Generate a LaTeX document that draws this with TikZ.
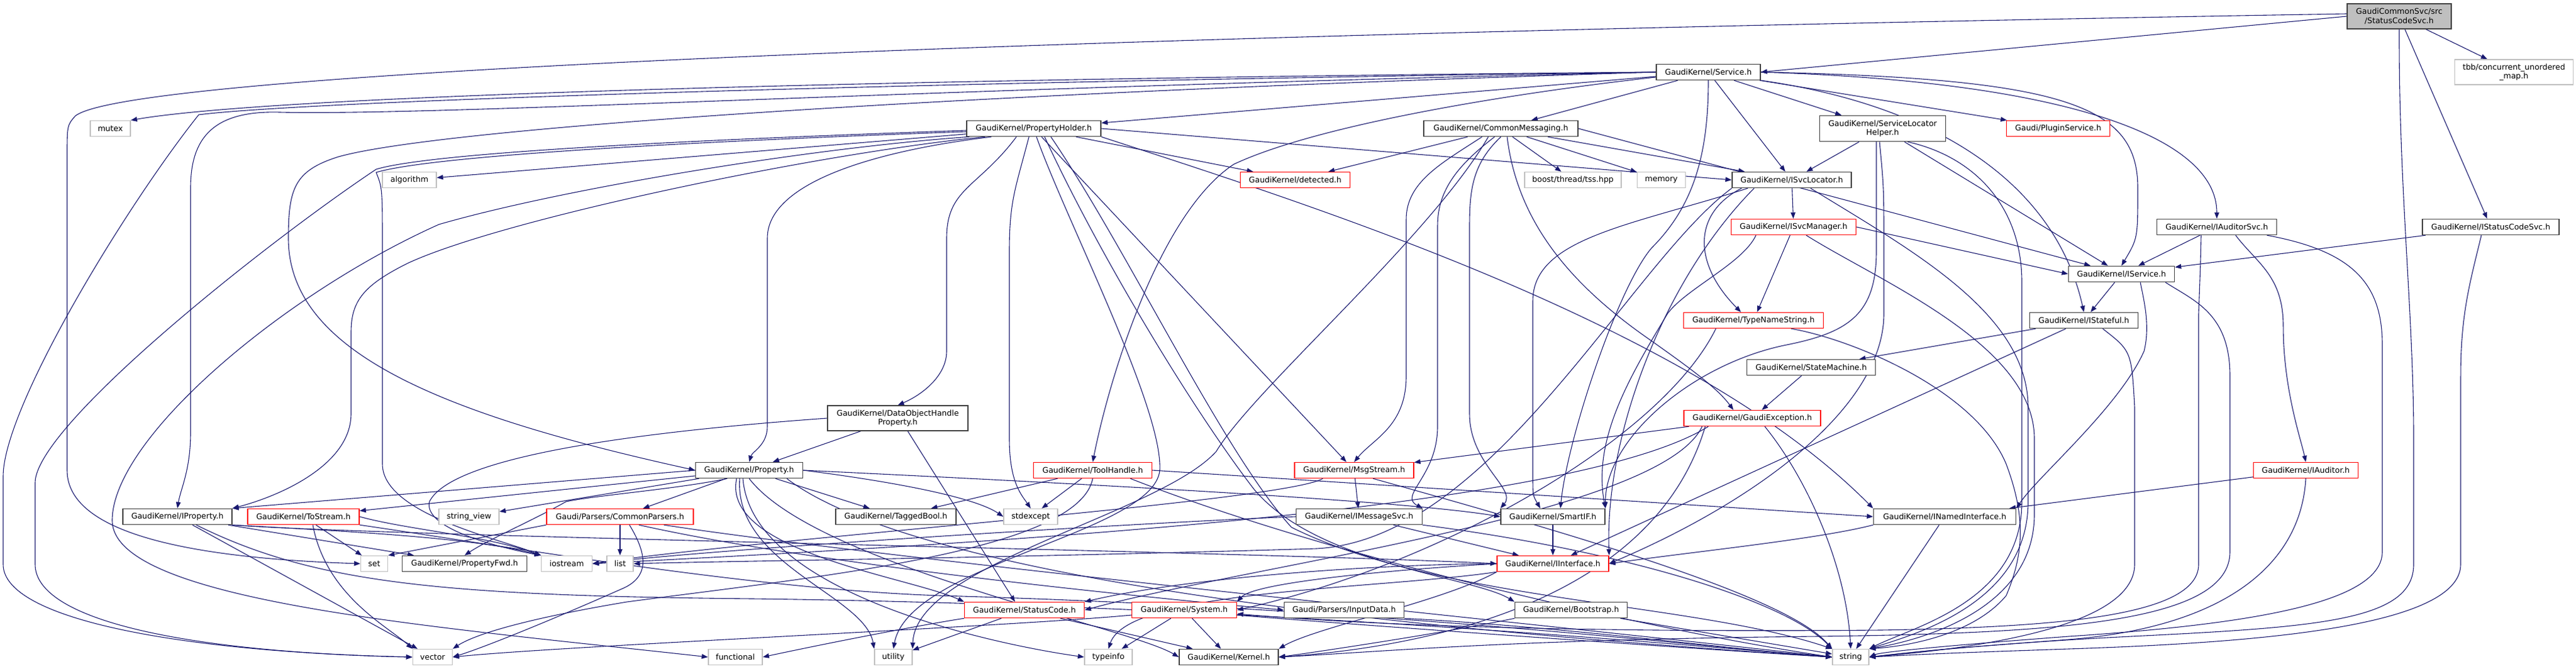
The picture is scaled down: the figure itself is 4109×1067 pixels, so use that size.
\documentclass[tikz,border=0pt]{standalone}
\usepackage{fontspec}
\setmainfont{DejaVu Sans}
\usetikzlibrary{arrows.meta}
\pgfdeclarelayer{bg}
\pgfdeclarelayer{paper}
\pgfsetlayers{paper,bg,main}
\definecolor{mblue}{HTML}{191970}
\definecolor{gbord}{HTML}{BFBFBF}
\definecolor{dbord}{HTML}{404040}
\definecolor{rbord}{HTML}{FF0000}
\begin{document}
\begin{tikzpicture}[x=1pt,y=-1pt,
  base/.style={draw, fill=white, inner sep=0pt, minimum height=25pt, align=center,
     font=\fontsize{12.5}{14.5}\selectfont},
  nb/.style={base, draw=dbord, line width=1.5pt},
  nr/.style={base, draw=rbord, line width=1.4pt},
  ng/.style={base, draw=gbord, line width=1.4pt},
  nroot/.style={base, draw=dbord, fill=gbord, line width=1.5pt},
  ed/.style={draw=mblue, line width=1.1pt, -{Triangle[length=10pt,width=7.5pt]}}]
\begin{pgfonlayer}{paper}
\fill[white] (0,0) rectangle (4109,1067);
\end{pgfonlayer}
\useasboundingbox (0,0) rectangle (4109,1067);
% nodes
\node[nroot, minimum width=166pt, minimum height=40pt] (root) at (3827,26) {GaudiCommonSvc/src\\/StatusCodeSvc.h};
\node[nb, minimum width=166pt] (svc) at (2725,115) {GaudiKernel/Service.h};
\node[ng, minimum width=189pt, minimum height=40pt] (tbb) at (4010,115) {tbb/concurrent\_unordered\\\_map.h};
\node[ng, minimum width=64pt] (mutex) at (176,205) {mutex};
\node[nb, minimum width=214pt] (ph) at (1649,205) {GaudiKernel/PropertyHolder.h};
\node[nb, minimum width=246pt] (cm) at (2394,205) {GaudiKernel/CommonMessaging.h};
\node[nb, minimum width=201pt, minimum height=41pt] (slh) at (3003,205) {GaudiKernel/ServiceLocator\\Helper.h};
\node[nr, minimum width=165pt] (plugin) at (3283,205) {Gaudi/PluginService.h};
\node[ng, minimum width=86pt] (algorithm) at (653,287) {algorithm};
\node[nr, minimum width=175pt] (detected) at (2066,287) {GaudiKernel/detected.h};
\node[ng, minimum width=154pt] (boost) at (2509,287) {boost/thread/tss.hpp};
\node[ng, minimum width=77pt] (memory) at (2650,287) {memory};
\node[nb, minimum width=190pt] (isl) at (2858,287) {GaudiKernel/ISvcLocator.h};
\node[nr, minimum width=199pt] (ism) at (2861,362) {GaudiKernel/ISvcManager.h};
\node[nb, minimum width=191pt] (ias) at (3536,362) {GaudiKernel/IAuditorSvc.h};
\node[nb, minimum width=218pt] (iscs) at (3973,362) {GaudiKernel/IStatusCodeSvc.h};
\node[nb, minimum width=169pt] (isv) at (3384,437) {GaudiKernel/IService.h};
\node[nr, minimum width=223pt] (tns) at (2797,511) {GaudiKernel/TypeNameString.h};
\node[nb, minimum width=173pt] (ist) at (3324,511) {GaudiKernel/IStateful.h};
\node[nb, minimum width=205pt] (sm) at (2889,586) {GaudiKernel/StateMachine.h};
\node[nb, minimum width=224pt, minimum height=40pt] (dohp) at (1432,667) {GaudiKernel/DataObjectHandle\\Property.h};
\node[nr, minimum width=218pt] (ge) at (2795,667) {GaudiKernel/GaudiException.h};
\node[nb, minimum width=171pt] (prop) at (1195,750) {GaudiKernel/Property.h};
\node[nr, minimum width=189pt] (th) at (1743,750) {GaudiKernel/ToolHandle.h};
\node[nr, minimum width=190pt] (ms) at (2160,750) {GaudiKernel/MsgStream.h};
\node[nr, minimum width=167pt] (iaud) at (3678,750) {GaudiKernel/IAuditor.h};
\node[nb, minimum width=174pt] (iprop) at (283,824) {GaudiKernel/IProperty.h};
\node[nr, minimum width=178pt] (tostr) at (484,824) {GaudiKernel/ToStream.h};
\node[ng, minimum width=96pt] (sv) at (748,824) {string\_view};
\node[nr, minimum width=234pt] (cp) at (989,824) {Gaudi/Parsers/CommonParsers.h};
\node[nb, minimum width=192pt] (tb) at (1429,824) {GaudiKernel/TaggedBool.h};
\node[ng, minimum width=86pt] (stdex) at (1644,824) {stdexcept};
\node[nb, minimum width=201pt] (ims) at (2168,824) {GaudiKernel/IMessageSvc.h};
\node[nb, minimum width=166pt] (smart) at (2477,824) {GaudiKernel/SmartIF.h};
\node[nb, minimum width=227pt] (ini) at (3102,824) {GaudiKernel/INamedInterface.h};
\node[ng, minimum width=43pt] (set) at (597,899) {set};
\node[nb, minimum width=199pt] (pfwd) at (741,899) {GaudiKernel/PropertyFwd.h};
\node[ng, minimum width=81pt] (iostream) at (904,899) {iostream};
\node[ng, minimum width=42pt] (list) at (989,899) {list};
\node[nr, minimum width=178pt] (iif) at (2477,899) {GaudiKernel/IInterface.h};
\node[nr, minimum width=191pt] (sc) at (1634,973) {GaudiKernel/StatusCode.h};
\node[nr, minimum width=167pt] (sys) at (1889,973) {GaudiKernel/System.h};
\node[nb, minimum width=191pt] (input) at (2144,973) {Gaudi/Parsers/InputData.h};
\node[nb, minimum width=179pt] (boot) at (2506,973) {GaudiKernel/Bootstrap.h};
\node[ng, minimum width=63pt] (vector) at (690,1048) {vector};
\node[ng, minimum width=86pt] (functional) at (1173,1048) {functional};
\node[ng, minimum width=60pt] (utility) at (1425,1048) {utility};
\node[ng, minimum width=76pt] (typeinfo) at (1768,1048) {typeinfo};
\node[nb, minimum width=158pt] (kernel) at (1960,1048) {GaudiKernel/Kernel.h};
\node[ng, minimum width=58pt] (string) at (2952,1048) {string};
% edges
\begin{pgfonlayer}{bg}
% root
\draw[ed] (root.west) -- (svc.east);
\draw[ed] (root) -- (tbb);
\draw[ed] (root) -- (iscs);
\draw[ed] (root.south) .. controls (3826,300) and (3850,500) .. (3850,700) -- (3850,900) .. controls (3850,990) and (3700,1000) .. (3400,1015) .. controls (3200,1025) and (3050,1040) .. (string.east);
\draw[ed] ([yshift=4pt]root.west) .. controls (1500,60) and (200,120) .. (120,185) .. controls (107,200) .. (107,250) -- (107,750) .. controls (107,850) and (300,890) .. (set.west);
% Service.h
\draw[ed] (svc) -- (plugin);
\draw[ed] (svc) -- (cm);
\draw[ed] (svc) -- (slh);
\draw[ed] (svc) -- (isl);
\draw[ed] (svc) -- (ph);
\draw[ed] (svc.east) .. controls (3300,130) and (3536,220) .. (ias.north);
\draw[ed] (svc.east) .. controls (3300,125) and (3410,170) .. (3410,300) .. controls (3410,380) .. (isv.north);
\draw[ed] (svc.south east) .. controls (3100,170) and (3280,300) .. (ist.north);
\draw[ed] (svc.south) .. controls (2725,250) and (2700,330) .. (2634,396) .. controls (2580,460) and (2500,700) .. ([xshift=12pt]smart.north);
\draw[ed] ([yshift=-8pt]svc.west) .. controls (2400,150) and (2100,200) .. (1968,262) .. controls (1850,340) and (1770,600) .. (th.north);
\draw[ed] (svc.west) .. controls (1500,125) and (450,150) .. (mutex.north east);
\draw[ed] (svc.west) .. controls (1500,130) and (500,160) .. (317,183) .. controls (200,330) and (5,650) .. (5,760) -- (5,900) .. controls (5,990) and (300,1040) .. (vector.west);
\draw[ed] (svc.west) .. controls (1500,140) and (700,185) .. (446,179) .. controls (340,176) and (304,220) .. (304,300) -- (304,690) .. controls (304,750) and (288,780) .. (iprop.north);
\draw[ed] (svc.west) .. controls (1500,150) and (700,205) .. (540,250) .. controls (470,272) and (460,300) .. (460,380) .. controls (460,560) and (700,660) .. (prop.west);
% PropertyHolder.h
\draw[ed] (ph) -- (algorithm);
\draw[ed] (ph) -- (detected);
\draw[ed] (ph.east) -- (isl.west);
\draw[ed] ([xshift=80pt]ph.south west) .. controls (1560,300) and (1510,300) .. (1510,380) -- (1510,560) .. controls (1510,600) and (1470,630) .. (dohp.north);
\draw[ed] ([xshift=100pt]ph.south west) .. controls (1620,300) and (1610,320) .. (1610,400) -- (1610,700) .. controls (1610,770) and (1630,790) .. (stdex.north);
\draw[ed] (ph) -- (ms);
\draw[ed] (ph.south east) .. controls (2100,330) and (2700,520) .. (ini.north west);
\draw[ed] ([xshift=40pt]ph.south west) .. controls (1400,240) and (1224,290) .. (1224,380) -- (1224,680) .. controls (1224,710) and (1200,720) .. (prop.north);
\draw[ed] ([yshift=-3pt]ph.west) .. controls (1200,220) and (700,240) .. (600,270) .. controls (420,390) and (56,680) .. (56,770) -- (56,900) .. controls (56,990) and (300,1040) .. (vector.west);
\draw[ed] ([yshift=-5pt]ph.west) .. controls (1200,222) and (700,245) .. (600,275) .. controls (610,300) .. (610,400) -- (610,740) .. controls (610,820) and (800,860) .. (iostream.north west);
\draw[ed] ([xshift=5pt]ph.south west) .. controls (1300,235) and (900,300) .. (700,358) .. controls (450,470) and (179,700) .. (179,830) .. controls (179,960) and (700,1000) .. (functional.west);
\draw[ed] ([xshift=30pt]ph.south west) .. controls (1300,245) and (800,350) .. (650,420) .. controls (580,455) and (560,480) .. (560,530) -- (560,660) .. controls (560,740) and (450,790) .. (iprop.north east);
\draw[ed] ([xshift=112pt]ph.south west) .. controls (1700,350) and (1855,650) .. (1850,750) .. controls (1840,850) and (1450,900) .. (utility.north);
\draw[ed] ([xshift=125pt]ph.south west) .. controls (1750,400) and (1900,650) .. (2000,780) .. controls (2100,900) and (2350,920) .. (boot.north west);
\draw[ed] ([xshift=135pt]ph.south west) .. controls (1800,400) and (1950,720) .. (2060,841) .. controls (2300,960) and (2700,960) .. (string.north west);
% CommonMessaging.h
\draw[ed] (cm) -- (detected);
\draw[ed] (cm) -- (boost);
\draw[ed] (cm) -- (memory);
\draw[ed] (cm) -- (isl);
\draw[ed] (cm.east) -- (isv);
\draw[ed] ([xshift=-30pt]cm.south) .. controls (2300,260) and (2243,290) .. (2243,350) -- (2243,600) .. controls (2243,680) and (2190,700) .. (ms.north);
\draw[ed] ([xshift=-10pt]cm.south) .. controls (2330,260) and (2293,300) .. (2293,360) -- (2293,680) .. controls (2293,760) and (2230,790) .. (ims.north east);
\draw[ed] (cm.south) .. controls (2350,260) and (2344,300) .. (2344,360) -- (2344,660) .. controls (2344,740) and (2420,780) .. (smart.north west);
\draw[ed] ([xshift=10pt]cm.south) .. controls (2420,350) and (2500,450) .. (2629,540) .. controls (2700,590) and (2740,620) .. ([xshift=-30pt]ge.north);
\draw[ed] ([xshift=-20pt]cm.south) .. controls (2280,380) and (2000,620) .. (1940,720) .. controls (1850,820) and (1460,900) .. (utility.north east);
% ServiceLocatorHelper.h
\draw[ed] (slh) -- (isl);
\draw[ed] (slh) -- (isv);
\draw[ed] ([xshift=-10pt]slh.south) .. controls (2993,300) .. (2993,400) .. controls (2993,500) and (2950,530) .. (2850,550) .. controls (2700,580) and (2560,700) .. (smart.north east);
\draw[ed] ([xshift=-5pt]slh.south) .. controls (3005,300) .. (3005,400) -- (3005,500) .. controls (3005,650) and (2800,800) .. (iif.east);
\draw[ed] ([xshift=40pt]slh.south) .. controls (3150,250) and (3225,330) .. (3225,450) -- (3225,800) .. controls (3225,960) and (3050,1000) .. (string.north east);
% ISvcLocator.h
\draw[ed] (isl) -- (ism);
\draw[ed] ([xshift=-80pt]isl.south) .. controls (2700,340) and (2700,420) .. ([xshift=-20pt]tns.north);
\draw[ed] ([xshift=-70pt]isl.south) .. controls (2600,360) and (2445,380) .. (2445,480) -- (2445,760) .. controls (2445,790) .. ([xshift=-20pt]smart.north);
\draw[ed] ([xshift=-60pt]isl.south) .. controls (2650,450) and (2560,700) .. (iif.north east);
\draw[ed] (isl.south west) .. controls (2600,420) and (2380,860) .. (2100,875) .. controls (1600,890) and (1150,895) .. (list.east);
\draw[ed] ([xshift=30pt]isl.south) .. controls (3050,400) and (3235,500) .. (3235,650) -- (3235,800) .. controls (3235,960) and (3060,1010) .. (string.north east);
% ISvcManager.h
\draw[ed] (ism.east) -- (isv.west);
\draw[ed] (ism) -- (tns);
\draw[ed] ([xshift=20pt]ism.south) .. controls (3000,450) and (3245,550) .. (3245,700) -- (3245,820) .. controls (3245,970) and (3070,1020) .. (string.north east);
\draw[ed] ([xshift=-60pt]ism.south) .. controls (2780,420) and (2690,460) .. (2660,500) .. controls (2600,600) and (2540,700) .. (smart.north east);
% IAuditorSvc.h
\draw[ed] (ias) -- (isv);
\draw[ed] ([xshift=30pt]ias.south) .. controls (3600,420) and (3642,440) .. (3642,520) .. controls (3642,620) and (3670,700) .. (iaud.north);
\draw[ed] ([xshift=-25pt]ias.south) .. controls (3510,420) .. (3507,500) -- (3507,900) .. controls (3507,980) and (3300,1000) .. (3000,1005) .. controls (2400,1010) and (2100,990) .. ([yshift=-6pt]sys.east);
\draw[ed] ([xshift=80pt]ias.south) .. controls (3750,400) and (3800,450) .. (3800,550) -- (3800,880) .. controls (3800,960) and (3600,995) .. (3300,1015) .. controls (3100,1030) and (3000,1040) .. (string.east);
% IStatusCodeSvc.h
\draw[ed] (iscs) -- (isv);
\draw[ed] ([xshift=-15pt]iscs.south) .. controls (3940,450) and (3925,500) .. (3925,600) -- (3925,900) .. controls (3925,1000) and (3600,1025) .. (3300,1035) .. controls (3100,1042) .. (string.east);
% IService.h
\draw[ed] (isv) -- (ist);
\draw[ed] ([xshift=30pt]isv.south) .. controls (3420,480) and (3430,520) .. (3420,560) .. controls (3380,650) and (3250,760) .. (ini.north east);
\draw[ed] ([xshift=70pt]isv.south) .. controls (3500,480) and (3557,500) .. (3557,600) -- (3557,880) .. controls (3557,990) and (3300,1010) .. (2900,1015) .. controls (2400,1020) and (2200,1040) .. (kernel.east);
% TypeNameString.h
\draw[ed] ([xshift=-60pt]tns.south) .. controls (2650,700) and (2300,900) .. (sys.east);
\draw[ed] ([xshift=60pt]tns.south) .. controls (2950,540) and (3150,620) .. (3200,740) .. controls (3230,820) and (3230,880) .. (3200,950) .. controls (3150,1010) and (3050,1030) .. (string.north east);
% IStateful.h
\draw[ed] (ist) -- (sm);
\draw[ed] (ist) -- (iif);
\draw[ed] ([xshift=30pt]ist.south) .. controls (3400,560) .. (3405,650) -- (3405,900) .. controls (3405,990) and (3200,1030) .. (string.east);
% StateMachine / GaudiException
\draw[ed] (sm) -- (ge);
\draw[ed] (ge) -- (ms);
\draw[ed] ([xshift=-80pt]ge.south) .. controls (2650,820) and (2000,900) .. (sc.east);
\draw[ed] ([xshift=-75pt]ge.south) .. controls (2640,950) and (2300,1030) .. (kernel.east);
\draw[ed] ([xshift=-70pt]ge.south) .. controls (2500,820) and (1500,870) .. (iostream.east);
\draw[ed] ([xshift=20pt]ge.south) .. controls (2880,760) and (2945,900) .. (string.north);
% MsgStream.h
\draw[ed] (ms) -- (ims);
\draw[ed] ([xshift=30pt]ms.south) .. controls (2500,850) and (2850,950) .. (string.north west);
\draw[ed] ([xshift=-50pt]ms.south) .. controls (2050,800) and (1200,860) .. (iostream.east);
% ToolHandle.h
\draw[ed] (th) -- (tb);
\draw[ed] (th) -- (stdex);
\draw[ed] (th.east) -- (ini.west);
\draw[ed] ([xshift=60pt]th.south) .. controls (2100,880) and (2600,1000) .. (string.west);
\draw[ed] (th.south) .. controls (1720,880) and (1300,920) .. (1000,960) .. controls (850,985) and (760,1010) .. (vector.north east);
% Property.h
\draw[ed] (prop.west) -- (iprop.north east);
\draw[ed] (prop) -- (tostr);
\draw[ed] (prop) -- (sv);
\draw[ed] ([xshift=-35pt]prop.south) .. controls (1080,780) and (950,790) .. (903,800) .. controls (850,830) and (780,860) .. (pfwd.north);
\draw[ed] (prop) -- (cp);
\draw[ed] (prop) -- (tb);
\draw[ed] (prop.east) .. controls (1400,765) and (1550,790) .. (stdex.west);
\draw[ed] (prop.east) .. controls (1800,775) and (2250,800) .. (smart.west);
\draw[ed] ([xshift=-20pt]prop.south) .. controls (1150,880) and (1450,920) .. (sc.north west);
\draw[ed] ([xshift=-15pt]prop.south) .. controls (1170,900) and (1380,950) .. (utility.north west);
\draw[ed] ([xshift=-10pt]prop.south) .. controls (1200,950) and (1600,1030) .. (typeinfo.west);
\draw[ed] (prop.south) .. controls (1300,900) and (1800,1000) .. (kernel.west);
\draw[ed] ([xshift=60pt]prop.south) .. controls (1500,950) and (2500,1020) .. (string.west);
% DataObjectHandleProperty.h
\draw[ed] (dohp) -- (prop);
\draw[ed] ([xshift=16pt]dohp.south) -- ([xshift=-15pt]sc.north);
\draw[ed] (dohp.west) .. controls (1000,690) and (720,730) .. (685,800) .. controls (675,840) and (780,870) .. (iostream.north west);
% IProperty.h
\draw[ed] (iprop) -- (pfwd);
\draw[ed] (iprop) -- (vector);
\draw[ed] (iprop.south east) .. controls (500,845) and (750,855) .. (iostream.north west);
\draw[ed] (iprop.south east) .. controls (600,855) and (2000,880) .. (iif.west);
\draw[ed] ([xshift=30pt]iprop.south) .. controls (500,930) and (700,950) .. (1200,955) .. controls (2000,965) and (2700,1030) .. (string.west);
% ToStream.h
\draw[ed] (tostr) -- (set);
\draw[ed] ([xshift=15pt]tostr.south) .. controls (520,950) and (620,1000) .. (vector.north west);
\draw[ed] (tostr.east) .. controls (650,845) and (780,855) .. (iostream.north west);
\draw[ed] (tostr.south east) .. controls (800,870) and (1200,940) .. (1500,950) .. controls (2200,970) and (2700,1030) .. (string.west);
% CommonParsers.h
\draw[ed] (cp) -- (list);
\draw[ed] (cp.south west) -- (set.north east);
\draw[ed] ([xshift=15pt]cp.south) .. controls (1030,880) and (1040,920) .. (990,940) .. controls (900,980) and (780,1030) .. (vector.east);
\draw[ed] ([xshift=30pt]cp.south) .. controls (1300,900) and (1800,950) .. (input.west);
\draw[ed] ([xshift=70pt]cp.south) .. controls (1400,890) and (2500,1000) .. (string.west);
% IMessageSvc.h
\draw[ed] (ims) -- (iif);
\draw[ed] (ims.south east) .. controls (2600,880) and (2850,960) .. (string.north west);
\draw[ed] (ims.west) .. controls (1900,830) and (1200,870) .. (iostream.east);
% SmartIF, INamedInterface, IInterface
\draw[ed] (smart) -- (iif);
\draw[ed] (ini.south west) .. controls (2900,860) and (2700,880) .. (iif.east);
\draw[ed] (ini) -- (string);
\draw[ed] (iif.west) .. controls (2200,900) and (1900,920) .. (sc.north east);
\draw[ed] (iif.west) .. controls (2200,910) and (2000,930) .. (sys.north east);
\draw[ed] (iif.south west) .. controls (2300,960) and (2100,1000) .. (kernel.north east);
\draw[ed] (iif.south west) .. controls (2200,940) and (1800,940) .. (typeinfo.north);
% StatusCode, System, InputData, Bootstrap
\draw[ed] (sc.south west) .. controls (1450,1000) and (1300,1030) .. (functional.east);
\draw[ed] (sc) -- (utility);
\draw[ed] (sc) -- (kernel);
\draw[ed] ([yshift=-8pt]sys.west) .. controls (1600,1000) and (900,1030) .. (vector.east);
\draw[ed] (sys) -- (typeinfo);
\draw[ed] (sys) -- (kernel);
\draw[ed] ([yshift=-8pt]sys.east) .. controls (2100,992) and (2700,1035) .. (string.west);
\draw[ed] (input.south east) .. controls (2500,1000) and (2800,1040) .. (string.west);
\draw[ed] (boot.south west) .. controls (2300,1010) and (2100,1040) .. (kernel.east);
\draw[ed] (boot) -- (string);
% IAuditor.h
\draw[ed] (iaud) -- (ini);
\draw[ed] (iaud.south) .. controls (3670,900) and (3550,1000) .. (3300,1020) .. controls (3100,1035) .. (string.east);
\end{pgfonlayer}
\end{tikzpicture}
\end{document}
